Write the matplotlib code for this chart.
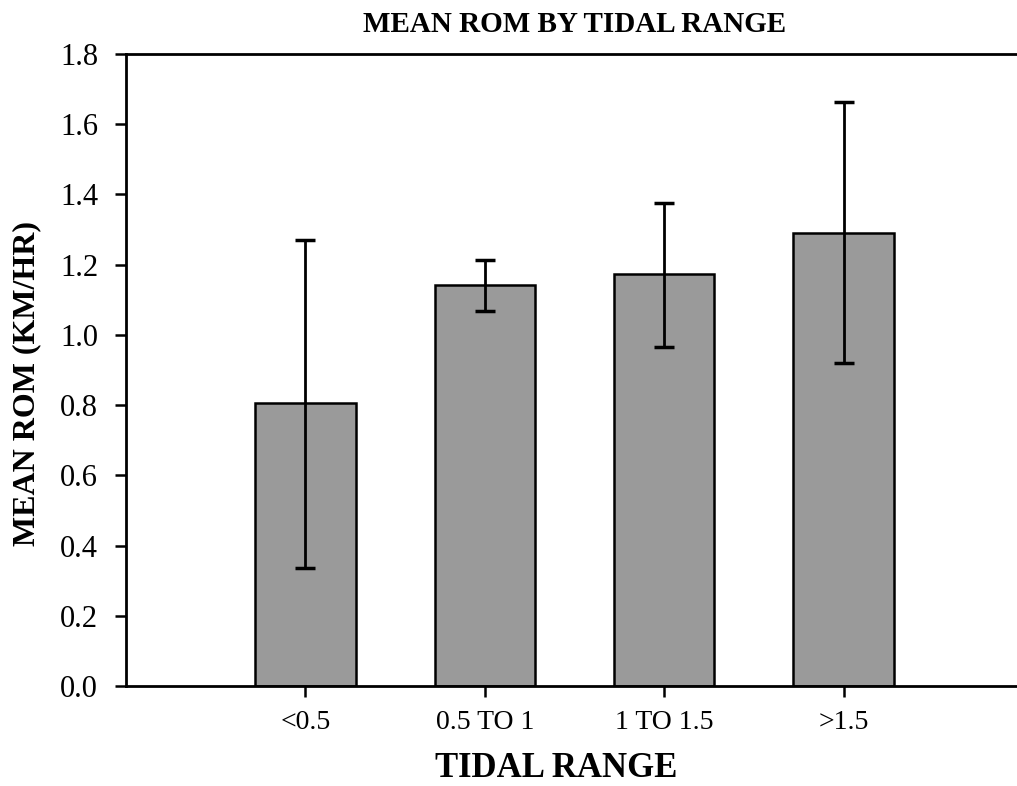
import matplotlib
matplotlib.use("Agg")
import matplotlib.pyplot as plt
import numpy as np

categories = ["<0.5", "0.5 TO 1", "1 TO 1.5", ">1.5"]
mean_rom = [0.805, 1.142, 1.172, 1.290]
err_low = [0.468, 0.074, 0.206, 0.370]
err_high = [0.465, 0.072, 0.204, 0.373]
yticks = [0.0, 0.2, 0.4, 0.6, 0.8, 1.0, 1.2, 1.4, 1.6, 1.8]

plt.rcParams['font.family'] = ['Liberation Serif', 'DejaVu Serif']

fig = plt.figure(figsize=(10.17, 7.86), dpi=100)
ax = fig.add_axes([126/1017, 1 - 686/786, (1023-126)/1017, (686-54)/786])

x = np.arange(len(categories))
ax.bar(x, mean_rom, width=0.56, color='#9a9a9a', edgecolor='black', linewidth=1.8, zorder=2)
ax.errorbar(x, mean_rom, yerr=[err_low, err_high], fmt='none', ecolor='black',
            elinewidth=2, capsize=7, capthick=2.5, zorder=3)

ax.set_xlim(-1, 4)
ax.set_ylim(0, 1.8)
ax.set_xticks(x)
ax.set_xticklabels(categories, fontsize=20)
ax.set_yticks(yticks)
ax.set_yticklabels([f"{v:.1f}" for v in yticks], fontsize=22)
ax.tick_params(axis='both', direction='out', length=8, width=1.8)
ax.tick_params(axis='x', pad=9)
ax.tick_params(axis='y', pad=12)

ax.spines['right'].set_visible(False)
for s in ['left', 'top', 'bottom']:
    ax.spines[s].set_linewidth(2)

ax.set_title("MEAN ROM BY TIDAL RANGE", fontsize=21, fontweight='bold', pad=16)
ax.set_xlabel("TIDAL RANGE", fontsize=25, fontweight='bold')
ax.xaxis.set_label_coords(0.48, -0.105)
ax.set_ylabel("MEAN ROM (KM/HR)", fontsize=23, fontweight='bold')
ax.yaxis.set_label_coords(-0.094, 0.478)

fig.savefig("out.png", dpi=100)
